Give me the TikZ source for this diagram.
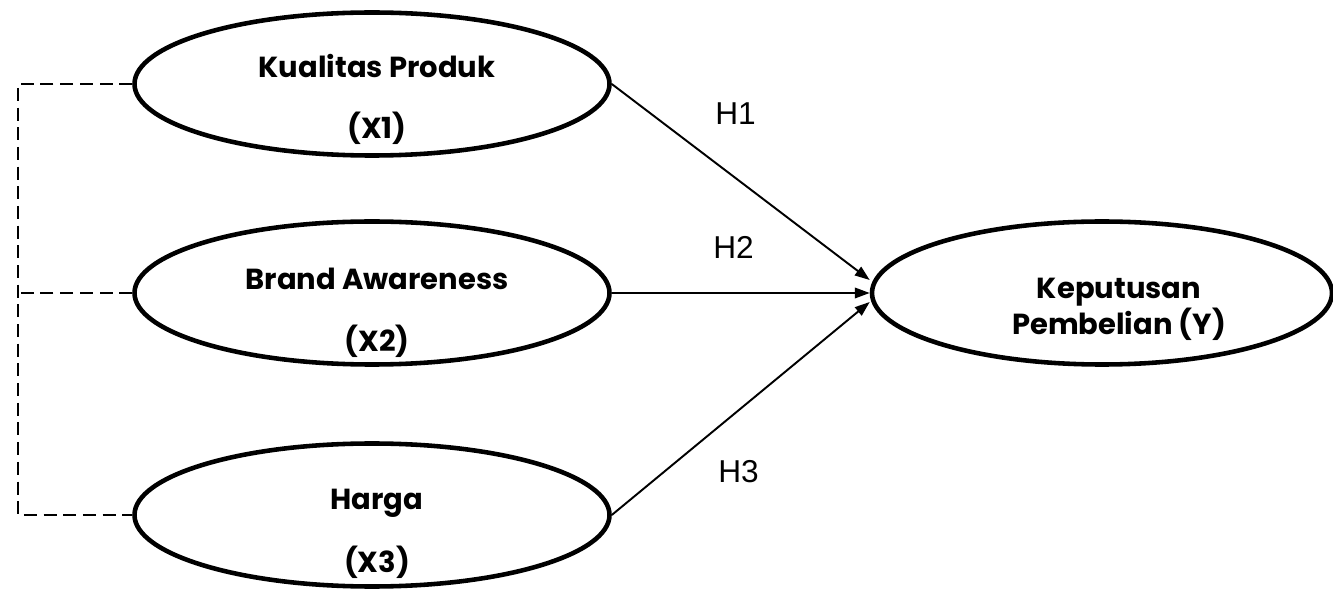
\documentclass[tikz,border=0pt]{standalone}
\usepackage{fontspec}
\setmainfont{Poppins}
\newfontfamily\hfont{Liberation Sans}
\usetikzlibrary{shapes.geometric,arrows.meta}

\begin{document}
\begin{tikzpicture}[
  var/.style={draw, ellipse, line width=2.6pt, inner sep=0pt,
    minimum width=9.5cm, minimum height=2.86cm},
  vtext/.style={font=\fontsize{16.5}{19}\selectfont\bfseries, anchor=base, inner sep=0pt},
  htext/.style={font=\hfont\fontsize{18}{21}\selectfont, anchor=base west, inner sep=0pt},
  hyp/.style={-{Triangle[length=8.5pt,width=6pt]}, line width=1.1pt},
  corr/.style={dashed, dash pattern=on 7.4pt off 3.8pt, line width=1.2pt}
]

\useasboundingbox (0,0) rectangle (26.66,11.8) ;

\node [var] (x1) at (7.44,10.12) {} ;
\node [var] (x2) at (7.44,5.94) {} ;
\node [var] (x3) at (7.44,1.5) {} ;
\node [var, minimum width=9.2cm, minimum height=2.86cm] (y) at (22.04,5.94) {} ;

\node [vtext] (x1a) at (7.54,10.24) {Kualitas Produk} ;
\node [vtext] (x1b) at (7.54,9.02) {(X1)} ;
\node [vtext] (x2a) at (7.54,6.0) {Brand Awareness} ;
\node [vtext] (x2b) at (7.54,4.76) {(X2)} ;
\node [vtext] (x3a) at (7.54,1.6) {Harga} ;
\node [vtext] (x3b) at (7.54,0.36) {(X3)} ;
\node [vtext] (ya) at (22.38,5.82) {Keputusan} ;
\node [vtext] (yb) at (22.38,5.1) {Pembelian (Y)} ;

\draw [hyp] (x1.east) to ([yshift=0.26cm]y.west) ;
\draw [hyp] (x2.east) to (y.west) ;
\draw [hyp] (x3.east) to ([yshift=-0.18cm]y.west) ;

\node [htext] (h1) at (14.3,9.3) {H1} ;
\node [htext] (h2) at (14.26,6.62) {H2} ;
\node [htext] (h3) at (14.36,2.14) {H3} ;

\coordinate (dl) at (0.36,0) ;
\draw [corr] (x1.west) to (x1.west -| dl) |- (x3.west) ;
\draw [corr] (x2.west) to (x2.west -| dl) ;

\end{tikzpicture}
\end{document}
